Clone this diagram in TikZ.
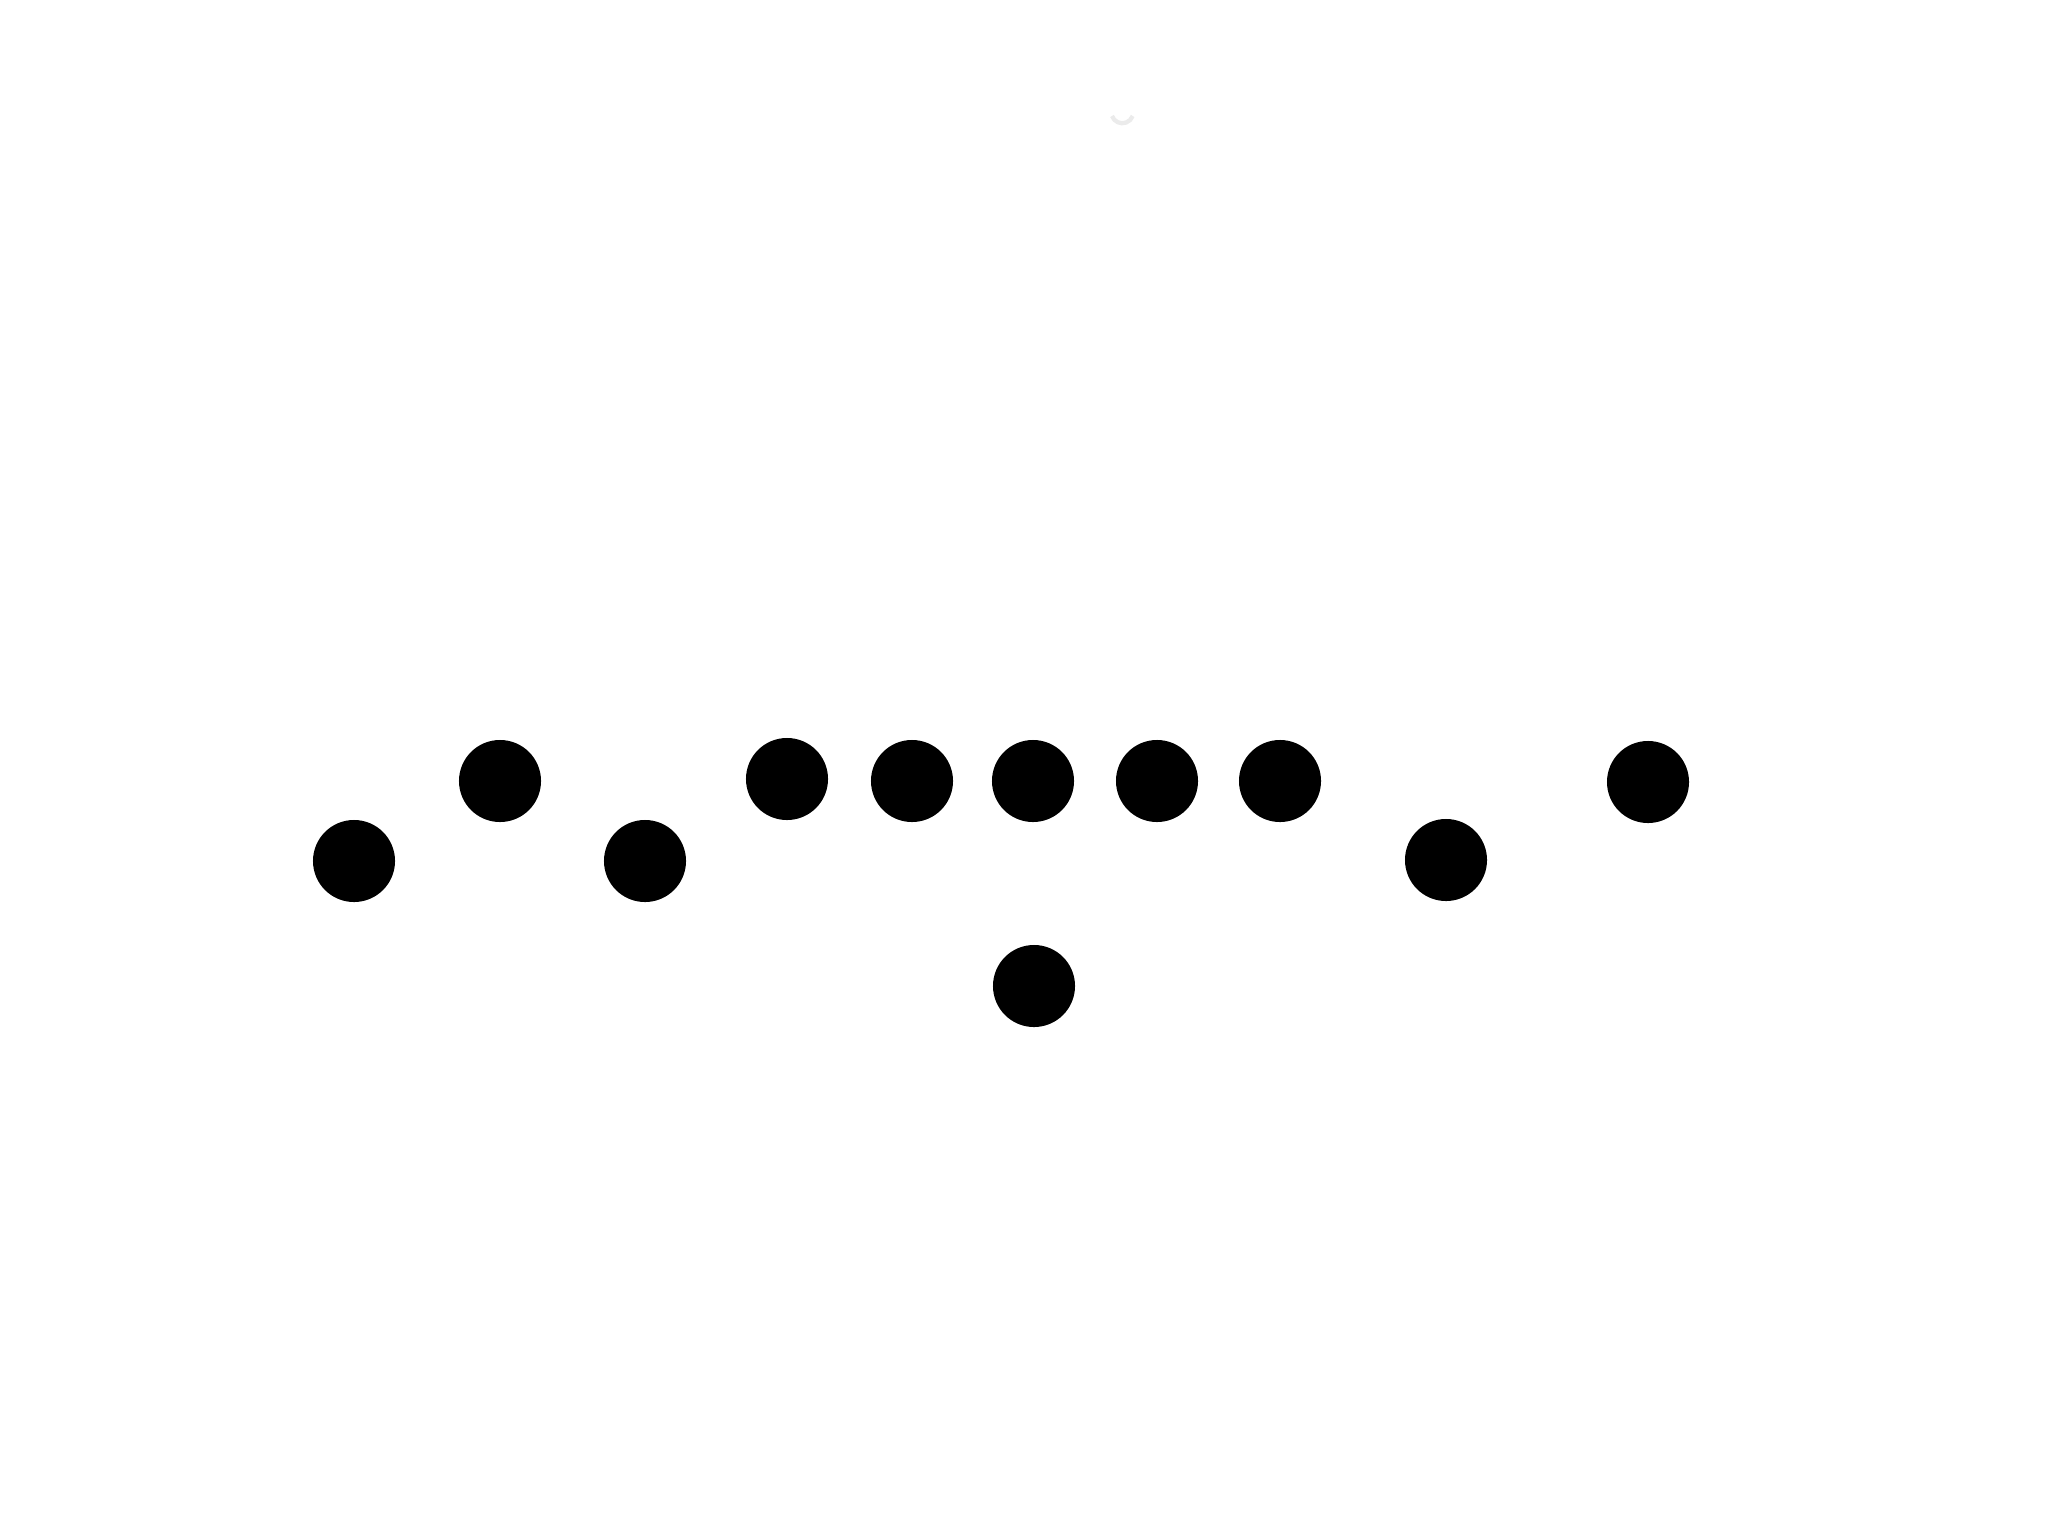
\documentclass[tikz,border=0pt]{standalone}
\begin{document}
\begin{tikzpicture}[x=0.01cm,y=-0.01cm,
  dot/.style={circle,fill=black,draw=none,inner sep=0pt,minimum size=0.82cm}]
\useasboundingbox (0,0) rectangle (2048,1536);
\fill[white] (0,0) rectangle (2048,1536);
\node[dot] (d1) at (354,861) {};
\node[dot] (d2) at (500,781) {};
\node[dot] (d3) at (645,861) {};
\node[dot] (d4) at (787,779) {};
\node[dot] (d5) at (912,781) {};
\node[dot] (d6) at (1033,781) {};
\node[dot] (d7) at (1157,781) {};
\node[dot] (d8) at (1280,781) {};
\node[dot] (d9) at (1446,860) {};
\node[dot] (d10) at (1648,782) {};
\node[dot] (d11) at (1034,986) {};
\coordinate (fa) at (1112,116);
\draw[black!8,line width=1.2pt] (fa) arc[start angle=160,end angle=20,radius=11];
\end{tikzpicture}
\end{document}
